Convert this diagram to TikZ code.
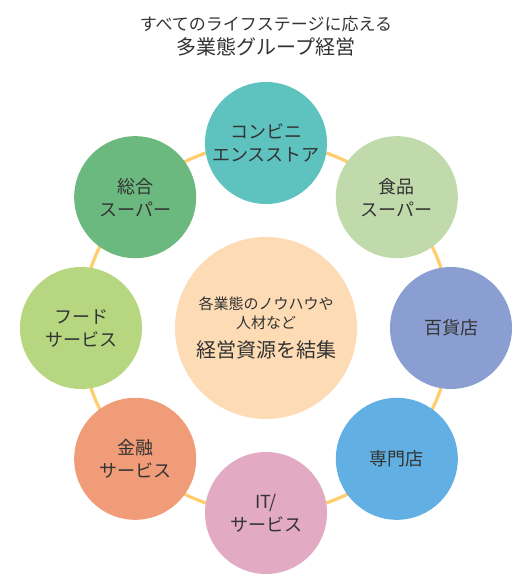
\documentclass[tikz,border=0pt]{standalone}
\usepackage{fontspec}
\setmainfont{Noto Sans CJK JP}
\usetikzlibrary{calc}
\definecolor{cRing}{HTML}{FFCD6E}
\definecolor{cCore}{HTML}{FDDCB5}
\definecolor{cConv}{HTML}{5EC2BE}
\definecolor{cFood}{HTML}{C1DAAB}
\definecolor{cDept}{HTML}{8B9ED1}
\definecolor{cSpec}{HTML}{62B0E3}
\definecolor{cIT}{HTML}{E2AAC3}
\definecolor{cFin}{HTML}{F19C78}
\definecolor{cFsrv}{HTML}{B6D67F}
\definecolor{cGms}{HTML}{6CB97F}
\definecolor{cTxt}{HTML}{333333}

\begin{document}
\begin{tikzpicture}[
    x=0.75pt, y=0.75pt, text=cTxt,
    ring/.style={draw=cRing, line width=2.4pt},
    core/.style={circle, fill=cCore, minimum size=136.5pt, inner sep=0pt,
                 align=center, font=\fontsize{11.25}{14.5}\selectfont},
    biz/.style={circle, minimum size=91.5pt, inner sep=0pt, align=center,
                font=\fontsize{13.5}{17.25}\selectfont},
    ttl/.style={align=center, inner sep=0pt},
]
\useasboundingbox (0,0) rectangle (530,580);

% ===================== Titulo =====================
\node[ttl] (title) at (266,544)
      {\fontsize{12.75}{19.5}\selectfont すべてのライフステージに応える\\[3pt]
       \fontsize{15}{19.5}\selectfont 多業態グループ経営};

% ===================== Centro =====================
\coordinate (mid) at (266,252);
\draw[ring] (mid) circle (138.75pt);
\node[core] (core) at (mid)
      {各業態のノウハウや\\人材など\\[7pt]
       \fontsize{15}{18}\selectfont 経営資源を結集};

% ===================== Formatos (anillo) =====================
\foreach \nm/\ang/\col/\txt in {
    conv/90/cConv/{コンビニ\\エンスストア},
    food/45/cFood/{食品\\スーパー},
    dept/0/cDept/{百貨店},
    spec/-45/cSpec/{専門店},
    it/-90/cIT/{IT/\\サービス},
    fin/-135/cFin/{金融\\サービス},
    fsrv/180/cFsrv/{フード\\サービス},
    gms/135/cGms/{総合\\スーパー}}{
    \node[biz, fill=\col] (\nm) at ($(mid)+(\ang:185)$) {\txt};
}

\end{tikzpicture}
\end{document}
